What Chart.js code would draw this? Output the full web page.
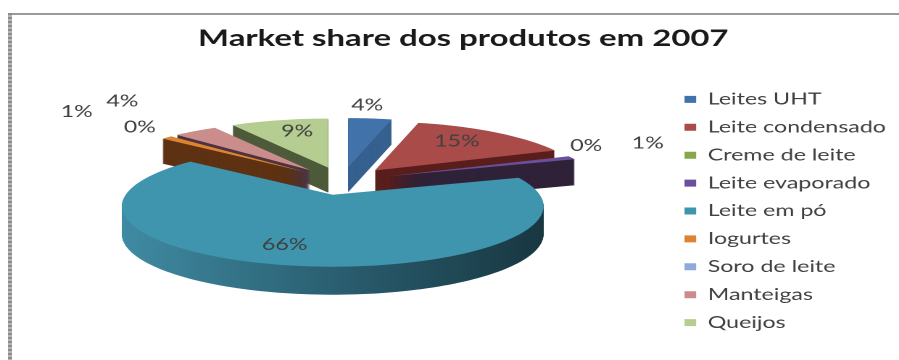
<!DOCTYPE html>
<html lang="pt">

<head>
    <meta charset="UTF-8">
    <title>Market share dos produtos em 2007</title>
    <script src="https://cdn.jsdelivr.net/npm/chart.js"></script>
    <style>
        html, body {
            margin: 0;
            width: 899px;
            height: 360px;
            overflow: hidden;
            background: #fff;
        }

        .frame {
            position: absolute;
            left: 8px;
            top: 13px;
            width: 891px;
            height: 347px;
            box-sizing: border-box;
            border-top: 2px solid #9a9a9a;
            border-left: 4px solid transparent;
        }

        .frame::before {
            content: "";
            position: absolute;
            left: -4px;
            top: -2px;
            width: 4px;
            height: 349px;
            background: repeating-linear-gradient(180deg, #8c8c8c 0 2px, #b4b4b4 2px 4px);
        }

        #shareChart {
            position: absolute;
            left: 0;
            top: 0;
            transform-origin: 0 0;
            transform: scaleX(1.45);
        }
    </style>
</head>

<body>
    <div class="frame"></div>
    <canvas id="shareChart" width="620" height="360"></canvas>

    <script>
        const categories = ['Leites UHT', 'Leite condensado', 'Creme de leite', 'Leite evaporado', 'Leite em pó', 'Iogurtes', 'Soro de leite', 'Manteigas', 'Queijos'];
        const shares = [4, 15, 0, 1, 66, 1, 0, 4, 9];
        const topColors = ['#4272aa', '#a94b49', '#86a84a', '#6a4f9a', '#3f94ae', '#dc8432', '#8faad6', '#cb8c8c', '#b5cd90'];
        const wallColors = ['#36608f', '#5a1f1c', '#4d5f2a', '#2f2239', '#2b5f71', '#5e3213', '#445a80', '#4d3440', '#4e5b3a'];
        const wallDepths = [25, 22, 25, 26, 28, 25, 25, 25, 25];
        // back slices first, the big front slice last
        const drawOrder = [0, 8, 7, 6, 5, 1, 2, 3, 4];
        // label position relative to the slice tip, in page pixels
        const labelShift = [[19, -62], [82, -29], [198, -30], [259, -33], [-48, 50], [-228, -60], [-166, -44], [-188, -69], [-31, -36]];

        const stretchX = 1.45;
        const view = {
            radiusX: 207 / stretchX,
            radiusY: 58.3,
            perspective: 0.19,
            centerX: 342 / stretchX,
            centerY: 181
        };

        // slice outline on the tilted plane, with a little perspective toward the viewer
        function slicePath(ctx, tipX, tipY, start, end) {
            const steps = Math.max(2, Math.ceil((end - start) * 40));
            ctx.beginPath();
            ctx.moveTo(tipX, tipY);
            for (let i = 0; i <= steps; i++) {
                const a = start + (end - start) * i / steps;
                const w = 1 - view.perspective * Math.sin(a);
                ctx.lineTo(tipX + view.radiusX * Math.cos(a) / w, tipY + view.radiusY * Math.sin(a) / w);
            }
            ctx.closePath();
        }

        const tiltedPie = {
            id: 'tiltedPie',
            beforeDatasetDraw(chart, args) {
                const ctx = chart.ctx;
                const arcs = args.meta.data;

                const tips = arcs.map(arc => {
                    const p = arc.getProps(['startAngle', 'endAngle', 'outerRadius']);
                    const mid = (p.startAngle + p.endAngle) / 2;
                    const off = arc.options.offset / p.outerRadius;
                    return {
                        start: p.startAngle,
                        end: p.endAngle,
                        x: view.centerX + Math.cos(mid) * off * view.radiusX,
                        y: view.centerY + Math.sin(mid) * off * view.radiusY
                    };
                });

                const sideGradient = ctx.createLinearGradient(122 / stretchX, 0, 544 / stretchX, 0);
                sideGradient.addColorStop(0, '#3f8ba3');
                sideGradient.addColorStop(0.5, '#2b5f71');
                sideGradient.addColorStop(1, '#183741');

                drawOrder.forEach(i => {
                    const t = tips[i];
                    if (t.end - t.start <= 0) return;
                    ctx.fillStyle = categories[i] === 'Leite em pó' ? sideGradient : wallColors[i];
                    for (let d = wallDepths[i]; d > 0; d -= 0.5) {
                        slicePath(ctx, t.x, t.y + d, t.start, t.end);
                        ctx.fill();
                    }
                    ctx.fillStyle = arcs[i].options.backgroundColor;
                    slicePath(ctx, t.x, t.y, t.start, t.end);
                    ctx.fill();
                });

                ctx.save();
                ctx.fillStyle = '#404040';
                ctx.font = '16px Lato';
                ctx.textAlign = 'center';
                ctx.textBaseline = 'middle';
                tips.forEach((t, i) => {
                    ctx.fillText(shares[i] + '%', t.x + labelShift[i][0] / stretchX, t.y + labelShift[i][1]);
                });
                ctx.restore();

                // the flat pie is replaced by what was drawn above
                return false;
            }
        };

        const shareChart = new Chart(document.getElementById('shareChart'), {
            type: 'pie',
            data: {
                labels: categories,
                datasets: [{
                    data: shares,
                    backgroundColor: topColors,
                    borderWidth: 0,
                    offset: 24
                }]
            },
            options: {
                responsive: false,
                devicePixelRatio: 2,
                animation: false,
                radius: 100,
                layout: {
                    padding: { left: 18, right: -1, bottom: 17.5 }
                },
                plugins: {
                    title: {
                        display: true,
                        text: 'Market share dos produtos em 2007',
                        color: '#1a1a1a',
                        font: { family: 'Lato', size: 22.7, weight: 'bold' },
                        padding: { top: 25, bottom: 8 }
                    },
                    legend: {
                        position: 'right',
                        align: 'end',
                        labels: {
                            color: '#404040',
                            font: { family: 'Lato', size: 16 },
                            boxWidth: 8,
                            boxHeight: 7,
                            padding: 11.9
                        }
                    },
                    tooltip: { enabled: false }
                }
            },
            plugins: [tiltedPie]
        });
    </script>
</body>

</html>
